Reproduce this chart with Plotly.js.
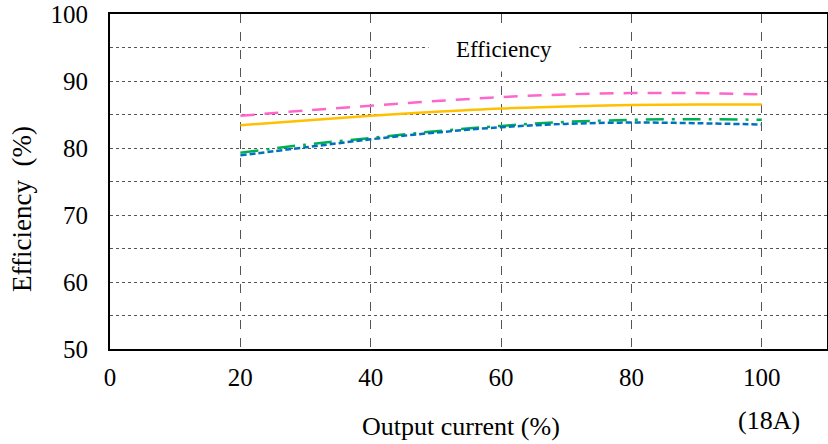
<!DOCTYPE html>
<html>
<head>
<meta charset="utf-8">
<script src="https://cdn.plot.ly/plotly-3.0.1.min.js"></script>
<style>html,body{margin:0;padding:0;background:#fff;}#chart{width:828px;height:444px;}</style>
</head>
<body>
<div id="chart"></div>
<script>
const current = [20, 30, 40, 50, 60, 70, 80, 90, 100];
const seriesPink = [84.8, 85.6, 86.3, 87.0, 87.6, 88.0, 88.2, 88.2, 88.0];
const seriesOrange = [83.4, 84.1, 84.8, 85.4, 85.9, 86.2, 86.4, 86.5, 86.5];
const seriesGreen = [79.3, 80.5, 81.5, 82.5, 83.3, 83.9, 84.2, 84.3, 84.2];
const seriesBlue = [78.9, 80.1, 81.3, 82.3, 83.1, 83.6, 83.8, 83.7, 83.5];
const xTicks = [0, 20, 40, 60, 80, 100];
const yTicks = [50, 60, 70, 80, 90, 100];

const font = 'Liberation Serif';
function tr(y, color, dash) {
  return {x: current, y: y, mode: 'lines', type: 'scatter', showlegend: false,
    line: {color: color, width: 2.5, dash: dash, shape: 'spline'}};
}
const data = [
  tr(seriesPink, '#FF66CC', '14px,10px'),
  tr(seriesOrange, '#FFC000', 'solid'),
  tr(seriesGreen, '#00B050', '18px,8px,3px,8px'),
  tr(seriesBlue, '#0070C0', '6px,3px')
];
const layout = {
  width: 828, height: 444,
  margin: {l: 110, r: 1, t: 14, b: 95},
  paper_bgcolor: '#fff', plot_bgcolor: '#fff',
  font: {family: font, color: '#000', size: 25},
  xaxis: {range: [0, 110], tickvals: xTicks, ticktext: xTicks.map(String),
    showgrid: true, gridcolor: '#555', griddash: 'dash', gridwidth: 1,
    showline: true, linecolor: '#000', linewidth: 2, mirror: true,
    zeroline: false, ticks: '', ticklabelstandoff: 5,
    tickfont: {family: font, size: 25}},
  yaxis: {range: [50, 100], tickvals: yTicks, ticktext: yTicks.map(String),
    showgrid: true, gridcolor: '#555', griddash: 'dot', gridwidth: 1,
    minor: {dtick: 5, showgrid: true, gridcolor: '#555', griddash: 'dot', gridwidth: 1},
    showline: true, linecolor: '#000', linewidth: 2, mirror: true,
    zeroline: false, ticks: '', ticklabelstandoff: 15,
    tickfont: {family: font, size: 25}},
  annotations: [
    {x: 60.5, y: 94.8, xref: 'x', yref: 'y', text: 'Efficiency', width: 140, height: 34,
      showarrow: false, bgcolor: '#fff', borderpad: 5, font: {family: font, size: 23}},
    {x: (461 - 110) / 717, y: 0, xref: 'paper', yref: 'paper', yanchor: 'top', yshift: -61,
      text: 'Output current (%)', showarrow: false, font: {family: font, size: 26}},
    {x: 100, y: 0, xref: 'x', yref: 'paper', yanchor: 'top', yshift: -55, xshift: 7,
      text: '(18A)', showarrow: false, font: {family: font, size: 26}},
    {x: (22 - 110) / 717, y: (349 - 209) / 335, xref: 'paper', yref: 'paper', textangle: -90,
      xanchor: 'center', yanchor: 'middle',
      text: 'Efficiency  (%)', showarrow: false, font: {family: font, size: 27}}
  ]
};
Plotly.newPlot('chart', data, layout, {displayModeBar: false, staticPlot: true});
</script>
</body>
</html>
